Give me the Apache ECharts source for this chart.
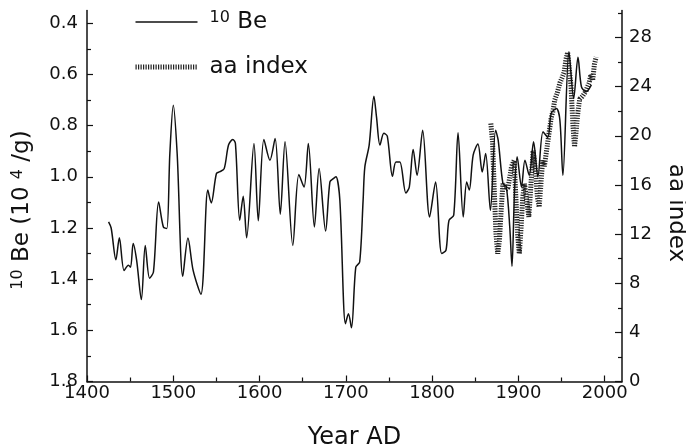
<!DOCTYPE html>
<html><head><meta charset="utf-8">
<script src="https://cdn.jsdelivr.net/npm/echarts@6/dist/echarts.min.js"></script>
<style>html,body{margin:0;padding:0;background:#fff}#c{width:686px;height:446px}</style>
</head><body><div id="c"></div>
<script>
const beYears = [1425,1428,1433.5,1437.5,1443,1448,1450.5,1453.5,1457.5,1463,1467.5,1472.5,1477,1483,1488.5,1492.5,1496,1500,1504.5,1511,1517,1523,1532,1540,1544,1550,1554,1559,1564,1569,1572,1577,1581,1585,1593.5,1598.5,1605,1612,1618,1624,1629.5,1638.5,1645.5,1651.5,1656.5,1663.5,1669,1676.5,1681.5,1685.5,1688.5,1693,1699.5,1703,1706.5,1711.5,1716,1720,1722,1727,1732.5,1735.5,1739.5,1744,1748,1754,1758,1762.5,1769.5,1773.5,1778,1782.5,1789,1797,1804,1811,1816,1819.5,1825,1830,1836,1840,1843,1847.5,1853,1858,1862,1867.5,1873.5,1876.5,1882,1886,1890,1892.5,1895.5,1898.5,1903.5,1907.5,1912.5,1917.5,1922.5,1928.5,1934,1938,1944,1948,1951.5,1958.5,1964,1969,1973,1978.5,1984.5];
const beValues = [1.176,1.20,1.324,1.238,1.366,1.346,1.353,1.261,1.326,1.48,1.268,1.396,1.372,1.098,1.196,1.202,0.91,0.72,0.91,1.389,1.239,1.366,1.459,1.052,1.102,0.987,0.98,0.968,0.876,0.854,0.87,1.17,1.076,1.238,0.87,1.172,0.854,0.935,0.85,1.146,0.863,1.268,0.991,1.04,0.87,1.196,0.968,1.212,1.02,1.007,1.0,1.09,1.574,1.535,1.59,1.353,1.333,1.09,0.961,0.876,0.685,0.766,0.876,0.83,0.841,0.998,0.942,0.942,1.063,1.04,0.893,0.994,0.818,1.157,1.02,1.30,1.287,1.17,1.15,0.828,1.157,1.02,1.052,0.915,0.872,0.981,0.909,1.131,0.818,0.857,1.026,1.04,1.2,1.35,1.05,0.922,1.04,0.935,0.994,0.863,1.0,0.824,0.846,0.752,0.733,0.778,0.994,0.511,0.694,0.533,0.648,0.668,0.641];
const aaYears = [1868,1870,1872,1874,1876,1878,1880,1882,1885,1888,1892,1895,1897,1899,1901,1903,1905,1907,1910,1912,1914,1917,1920,1922,1924,1926,1928,1930,1932,1935,1938,1940,1942,1945,1948,1951,1953,1955,1957,1959,1961,1963,1965,1967,1969,1971,1974,1976,1978,1980,1982,1984,1986,1988,1990];
const aaValues = [21.0,19.5,15.5,12.0,10.4,11.5,14.0,16.1,15.6,15.8,17.5,18.0,15.0,12.0,10.4,12.5,15.0,16.1,14.5,13.4,15.5,18.8,17.0,15.0,14.2,16.0,18.0,17.5,18.5,20.0,21.5,22.0,22.9,23.5,24.3,24.8,25.2,26.2,26.8,26.7,24.0,21.0,19.1,20.5,22.0,23.0,23.2,23.4,23.6,24.0,24.3,25.0,24.5,25.8,26.4];
const xTicks = [1400,1500,1600,1700,1800,1900,2000];
const xMinorTicks = [1450,1550,1650,1750,1850,1950];
const beTicks = [0.4,0.6,0.8,1.0,1.2,1.4,1.6,1.8];
const beMinorTicks = [0.5,0.7,0.9,1.1,1.3,1.5,1.7];
const aaTicks = [0,4,8,12,16,20,24,28];
const aaMinorTicks = [2,6,10,14,18,22,26,30];

const FONT = 'DejaVu Sans';
const INK = '#111';
const lineAx = {show: true, lineStyle: {color: INK, width: 1.5}};
const noSplit = {show: false};
const hidden = {color: 'rgba(0,0,0,0)', borderColor: 'rgba(0,0,0,0)', borderWidth: 0, opacity: 0};
const supRich = {s: {fontFamily: FONT, fontSize: 16, color: INK, padding: [0, 0, 9, 0]}};

const chart = echarts.init(document.getElementById('c'), null, {renderer: 'canvas'});
chart.setOption({
  animation: false,
  backgroundColor: '#fff',
  grid: {left: 87, right: 64, top: 10.5, bottom: 64.5, containLabel: false, outerBoundsMode: 'none'},
  legend: {
    orient: 'vertical', left: 128, top: 4,
    itemWidth: 62, itemHeight: 10, itemGap: 19,
    textStyle: {fontFamily: FONT, fontSize: 23, color: INK, padding: [0, 0, 0, 7], lineHeight: 26, rich: supRich},
    formatter: name => name === 'Be' ? '{s|10} Be' : name,
    data: [
      {name: 'Be', itemStyle: hidden, lineStyle: {color: INK, width: 1.5, type: 'solid'}},
      {name: 'aa index', itemStyle: hidden, lineStyle: {color: '#222', width: 5, type: [1.2, 1.3]}}
    ]
  },
  xAxis: [{
    type: 'value', min: 1400, max: 2020, position: 'bottom',
    name: 'Year AD', nameLocation: 'middle', nameGap: 44,
    nameTextStyle: {fontFamily: FONT, fontSize: 24, color: INK},
    axisLine: lineAx,
    axisTick: {show: true, inside: true, length: 6, customValues: xTicks, lineStyle: {color: INK, width: 1.2}},
    axisLabel: {customValues: xTicks, fontFamily: FONT, fontSize: 18, color: INK, margin: 3, formatter: v => String(v)},
    splitLine: noSplit
  }, {
    type: 'value', min: 1400, max: 2020, position: 'bottom',
    axisLine: {show: false},
    axisTick: {show: true, inside: true, length: 4, customValues: xMinorTicks, lineStyle: {color: INK, width: 1.2}},
    axisLabel: {show: false},
    splitLine: noSplit
  }],
  yAxis: [{
    type: 'value', min: 0.35, max: 1.8, inverse: true, position: 'left',
    name: '{s|10} Be (10 {s|4} /g)', nameLocation: 'middle', nameGap: 52, nameRotate: 90,
    nameTextStyle: {fontFamily: FONT, fontSize: 23, color: INK, padding: [0, 28, 0, 0], rich: supRich},
    axisLine: lineAx,
    axisTick: {show: true, inside: true, length: 6, customValues: beTicks, lineStyle: {color: INK, width: 1.2}},
    axisLabel: {customValues: beTicks, fontFamily: FONT, fontSize: 18, color: INK, margin: 9, formatter: v => v.toFixed(1)},
    splitLine: noSplit
  }, {
    type: 'value', min: 0.35, max: 1.8, inverse: true, position: 'left',
    axisLine: {show: false},
    axisTick: {show: true, inside: true, length: 4, customValues: beMinorTicks, lineStyle: {color: INK, width: 1.2}},
    axisLabel: {show: false},
    splitLine: noSplit
  }, {
    type: 'value', min: 0, max: 30.2, position: 'right',
    name: 'aa index', nameLocation: 'middle', nameGap: 42, nameRotate: -90,
    nameTextStyle: {fontFamily: FONT, fontSize: 23, color: INK, padding: [0, 0, 0, 34]},
    axisLine: lineAx,
    axisTick: {show: true, inside: true, length: 7, customValues: aaTicks, lineStyle: {color: INK, width: 1.2}},
    axisLabel: {customValues: aaTicks, fontFamily: FONT, fontSize: 18, color: INK, margin: 7},
    splitLine: noSplit
  }, {
    type: 'value', min: 0, max: 30.2, position: 'right',
    axisLine: {show: false},
    axisTick: {show: true, inside: true, length: 4, customValues: aaMinorTicks, lineStyle: {color: INK, width: 1.2}},
    axisLabel: {show: false},
    splitLine: noSplit
  }],
  series: [{
    name: 'Be', type: 'line', xAxisIndex: 0, yAxisIndex: 0,
    data: beYears.map((y, i) => [y, beValues[i]]),
    symbol: 'none', smooth: 0.3, z: 3,
    lineStyle: {color: INK, width: 1.5}, itemStyle: {color: INK}
  }, {
    name: 'aa index', type: 'line', xAxisIndex: 0, yAxisIndex: 2,
    data: aaYears.map((y, i) => [y, aaValues[i]]),
    symbol: 'none', z: 2,
    lineStyle: {color: '#222', width: 5, type: [1.2, 1.3]}, itemStyle: {color: '#222'}
  }]
});
</script></body></html>
